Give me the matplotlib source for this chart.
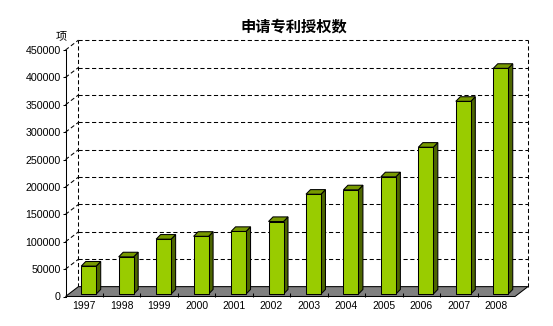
import numpy as np
import matplotlib
matplotlib.use("Agg")
import matplotlib.pyplot as plt
from matplotlib.patches import Polygon

# data
years = ['1997', '1998', '1999', '2000', '2001', '2002',
         '2003', '2004', '2005', '2006', '2007', '2008']
grants = [50992, 67889, 100156, 105345, 114251, 132399,
          182226, 190238, 214003, 268002, 351782, 411982]
y_ticks = list(range(0, 450001, 50000))

plt.rcParams['font.family'] = ['Liberation Sans', 'Noto Sans CJK SC']

W, H = 553, 326
fig = plt.figure(figsize=(W/100, H/100), dpi=100)
ax = fig.add_axes([65.5/W, 29.5/H, 449.5/W, 246.5/H])
n = len(years)
ymax = y_ticks[-1]
ax.set_xlim(0, n)
ax.set_ylim(0, ymax)

# depth of the fake 3d box (data units)
DX, DY = 0.345, 18000
# bar placement inside a slot
BX, BY = 0.42, 4500
BW = 0.40
BDX, BDY = 0.12, 8400

lw = 0.75
dash = (0, (4, 2.5))

# floor
ax.add_patch(Polygon([(0, 0), (n, 0), (n + DX, DY), (DX, DY)], closed=True,
                     fc='#808080', ec='black', lw=lw, clip_on=False, zorder=1))

# back wall grid
for t in y_ticks[1:]:
    ax.plot([DX, n + DX], [t + DY, t + DY], color='black', lw=lw, ls=dash,
            clip_on=False, zorder=0)
    ax.plot([0, DX], [t, t + DY], color='black', lw=lw, ls=dash,
            clip_on=False, zorder=0)
for xx in [DX, n + DX]:
    ax.plot([xx, xx], [DY, ymax + DY], color='black', lw=lw, ls=dash,
            clip_on=False, zorder=0)

# bars
for i, v in enumerate(grants):
    x0 = i + BX
    y0 = BY
    front = [(x0, y0), (x0 + BW, y0), (x0 + BW, y0 + v), (x0, y0 + v)]
    side = [(x0 + BW, y0), (x0 + BW + BDX, y0 + BDY),
            (x0 + BW + BDX, y0 + v + BDY), (x0 + BW, y0 + v)]
    top = [(x0, y0 + v), (x0 + BW, y0 + v),
           (x0 + BW + BDX, y0 + v + BDY), (x0 + BDX, y0 + v + BDY)]
    for pts, c in [(side, '#4d6600'), (top, '#779900'), (front, '#99cc00')]:
        ax.add_patch(Polygon(pts, closed=True, fc=c, ec='black', lw=lw,
                             clip_on=False, zorder=3))

for s in ['top', 'right', 'bottom']:
    ax.spines[s].set_visible(False)
ax.spines['left'].set_linewidth(lw)
ax.spines['left'].set_zorder(4)

ax.set_yticks(y_ticks)
ax.set_yticklabels([str(t) for t in y_ticks])
ax.tick_params(axis='y', length=2.5, width=lw, pad=1, labelsize=7.7)
ax.set_xticks(np.arange(n) + 0.5)
ax.set_xticklabels(years)
ax.tick_params(axis='x', which='major', length=0, pad=3.5, labelsize=7.5)
ax.set_xticks(np.arange(1, n), minor=True)
ax.tick_params(axis='x', which='minor', direction='in', length=3, width=lw)

fig.text(294/W, 1 - 26.5/H, '申请专利授权数', ha='center', va='center',
         fontsize=11, fontweight='bold', family=['Noto Sans CJK SC'])
ax.annotate('项', xy=(0, ymax), xytext=(-3, 10), textcoords='offset points',
            ha='center', va='center', fontsize=8, family=['Noto Sans CJK SC'])

fig.savefig('out.png', dpi=100)
